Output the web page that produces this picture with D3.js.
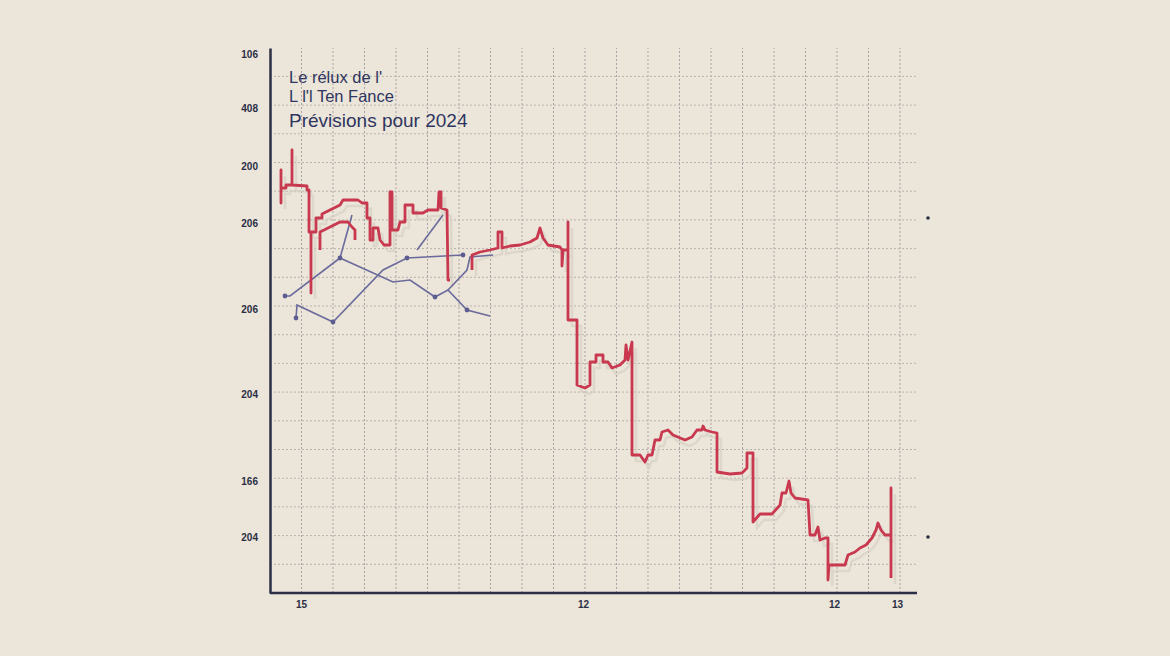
<!DOCTYPE html>
<html><head><meta charset="utf-8">
<script src="https://cdn.jsdelivr.net/npm/d3@7/dist/d3.min.js"></script>
<style>html,body{margin:0;background:#ece5d9;}</style>
</head><body><svg id="c" width="1170" height="656"></svg>
<script>
const titleLines = ["Le rélux de l'", "L  l'l Ten Fance", "Prévisions pour 2024"];
const yTickValues = [539, 485, 427, 370, 284, 199, 112, 56];
const yTickLabels = ["106", "408", "200", "206", "206", "204", "166", "204"];
const xTickValues = [31, 313, 564, 627];
const xTickLabels = ["15", "12", "12", "13"];
const redX = [11,11,11,11,16,16,22,22,22,37,37,39,39,41,41,41,46,46,52,52,60,70,73,88,92,97,97,100,100,103,103,108,110,114,120,120,122,122,128,130,135,135,143,143,153,158,168,169,171,171,177,178,180,null,
 202,202,210,220,228,228,232,232,240,250,260,267,270,273,278,290,292,292,293,298,298,298,307,307,315,320,320,326,326,333,333,338,342,350,355,356,358,362,362,370,375,378,382,385,390,392,398,403,415,422,427,432,433,435,442,447,447,460,472,477,477,483,483,490,502,510,512,516,519,521,525,538,540,545,548,550,555,558,558,559,575,578,585,590,596,602,606,608,611,615,621,621,621];
const redY = [405,423,390,405,405,408,408,443,408,407,403,403,361,361,300,361,361,375,375,379,383,388,393,393,390,390,375,375,353,353,365,365,353,348,348,401,401,363,363,371,371,388,388,380,380,383,383,401,401,385,383,313,313,null,
 323,338,341,343,345,361,361,345,347,348,351,355,365,355,348,346,343,327,343,343,371,273,273,208,205,208,231,231,238,238,231,231,225,228,233,248,233,251,138,138,131,138,138,153,153,161,163,158,153,156,163,163,167,163,161,160,121,119,120,125,140,140,71,79,79,88,100,100,112,100,95,93,58,58,66,53,55,55,13,28,28,38,41,45,48,55,63,70,63,58,58,105,15];
const red2X = [50,50,52,60,70,78,82,85,85];
const red2Y = [343,361,362,366,371,371,366,363,353];
const blueLines = [
 {x:[15,20,70,123,140,165,178,197,220], y:[297,297,335,311,313,296,303,283,277]},
 {x:[26,27,63,113,137,193], y:[275,288,271,323,335,338]},
 {x:[70,82], y:[335,378]},
 {x:[147,173], y:[343,378]},
 {x:[178,197,200,223], y:[303,323,336,338]}
];
const blueDotX = [15,26,63,70,137,165,197,193];
const blueDotY = [297,275,271,335,335,296,283,338];
const sideDotY = [375, 56];

const svg = d3.select("#c");
const x = d3.scaleLinear().domain([0,630]).range([270,900]);
const y = d3.scaleLinear().domain([0,545]).range([593,48]);

const g = svg.append("g");
g.selectAll(".vg").data(d3.range(1,21).map(k=>k*31.5)).join("line")
 .attr("x1",d=>x(d)).attr("x2",d=>x(d)).attr("y1",y(0)).attr("y2",y(545))
 .attr("stroke","#a9a3a6").attr("stroke-width",1).attr("stroke-dasharray","2,2");
g.selectAll(".hg").data(d3.range(1,19).map(k=>k*28.7)).join("line")
 .attr("x1",x(0)).attr("x2",x(647)).attr("y1",d=>y(d)).attr("y2",d=>y(d))
 .attr("stroke","#b9b2aa").attr("stroke-width",1).attr("stroke-dasharray","2,2");

const yAxis = d3.axisLeft(y).tickValues(yTickValues).tickFormat((d,i)=>yTickLabels[i]).tickSize(0).tickPadding(12);
const ya = svg.append("g").attr("transform",`translate(${x(0)},0)`).call(yAxis);
ya.select(".domain").attr("stroke","#2b2f45").attr("stroke-width",2.5);
const xAxis = d3.axisBottom(x).tickValues(xTickValues).tickFormat((d,i)=>xTickLabels[i]).tickSize(0).tickPadding(8);
const xa = svg.append("g").attr("transform",`translate(0,${y(0)})`).call(xAxis);
xa.select(".domain").attr("stroke","#2b2f45").attr("stroke-width",2.5).attr("d",`M${x(0)},0H${x(647)}`);
svg.selectAll(".tick text").attr("fill","#2b2f45").attr("font-family","Liberation Sans, Arial").attr("font-size",10).attr("font-weight","bold");

const redPts = redX.map((v,i)=>[v,redY[i]]);
const red2Pts = red2X.map((v,i)=>[v,red2Y[i]]);
const line = d3.line().defined(d=>d[0]!==null).x(d=>x(d[0])).y(d=>y(d[1]));
svg.append("path").attr("d",line(redPts.map(d=>d[0]===null?d:[d[0]+4,d[1]-6])))
 .attr("fill","none").attr("stroke","#d4cdc2").attr("stroke-width",2.5).attr("opacity",0.6);

blueLines.forEach(b=>{
 svg.append("path").attr("d",line(b.x.map((v,i)=>[v,b.y[i]])))
  .attr("fill","none").attr("stroke","#6b6a9c").attr("stroke-width",1.6);
});
svg.selectAll(".bd").data(blueDotX).join("circle").attr("cx",d=>x(d)).attr("cy",(d,i)=>y(blueDotY[i]))
 .attr("r",2.4).attr("fill","#5e5d92");

[redPts, red2Pts].forEach(p=>svg.append("path").attr("d",line(p)).attr("fill","none").attr("stroke","#c8384f")
 .attr("stroke-width",2.8).attr("stroke-linejoin","round"));

svg.selectAll(".sd").data(sideDotY).join("circle").attr("cx",928).attr("cy",d=>y(d)).attr("r",1.8).attr("fill","#2b2f45");

const t = svg.append("g").attr("font-family","Liberation Sans, Arial").attr("fill","#2e3560");
t.append("text").attr("x",289).attr("y",83).attr("font-size",16.5).text(titleLines[0]);
t.append("text").attr("x",289).attr("y",102).attr("font-size",16.5).text(titleLines[1]);
t.append("text").attr("x",289).attr("y",127).attr("font-size",19).text(titleLines[2]);
</script></body></html>
